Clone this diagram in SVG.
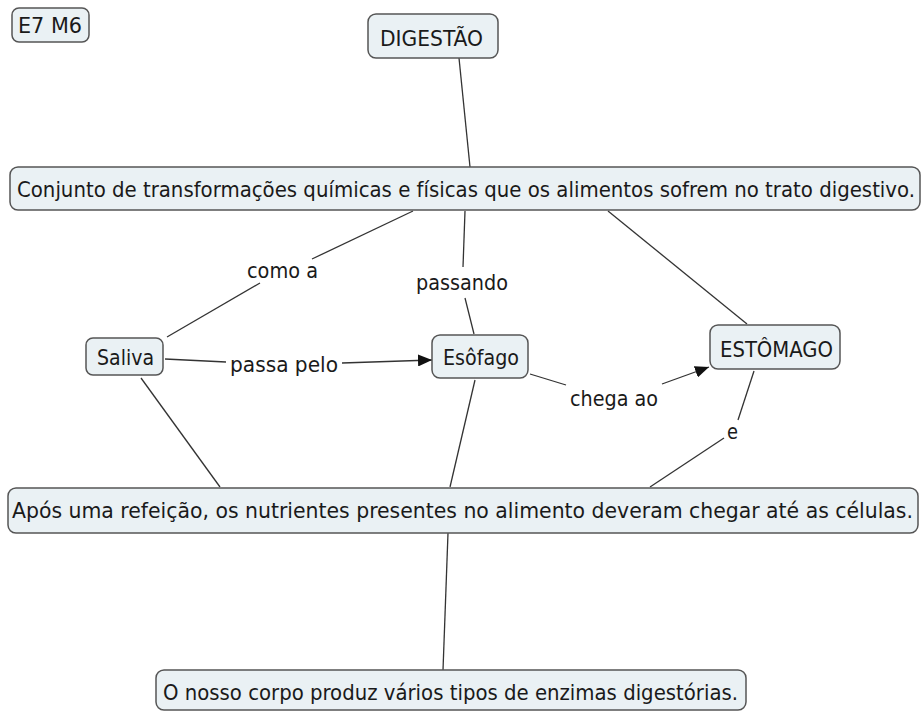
<svg xmlns="http://www.w3.org/2000/svg" width="923" height="711" viewBox="0 0 923 711">
<style>
.box{fill:#eaf1f4;stroke:#555;stroke-width:1.5}
.t{font-family:"DejaVu Sans Condensed","DejaVu Sans",sans-serif;font-size:21px;fill:#1a1a1a}
.c{stroke:#333;stroke-width:1.3;fill:none}
</style>
<defs>
<marker id="arr" markerWidth="14" markerHeight="12" refX="14" refY="6" orient="auto" markerUnits="userSpaceOnUse" viewBox="0 0 14 12">
<path d="M0,0 L14,6 L0,12 z" fill="#111"/>
</marker>
</defs>
<g id="connectors">
<line class="c" x1="459" y1="58" x2="470" y2="167"/>
<line class="c" x1="413" y1="211" x2="312" y2="259"/>
<line class="c" x1="260" y1="283" x2="167" y2="337"/>
<line class="c" x1="465" y1="211" x2="463" y2="267"/>
<line class="c" x1="465" y1="298" x2="474" y2="334"/>
<line class="c" x1="608" y1="211" x2="747" y2="324"/>
<line class="c" x1="165" y1="359" x2="226" y2="362"/>
<line class="c" x1="342" y1="363" x2="432" y2="360" marker-end="url(#arr)"/>
<line class="c" x1="530" y1="374" x2="566" y2="385"/>
<line class="c" x1="662" y1="384" x2="709" y2="367" marker-end="url(#arr)"/>
<line class="c" x1="754" y1="371" x2="738" y2="420"/>
<line class="c" x1="724" y1="438" x2="650" y2="487"/>
<line class="c" x1="141" y1="378" x2="220" y2="487"/>
<line class="c" x1="475" y1="380" x2="450" y2="487"/>
<line class="c" x1="448" y1="533" x2="443" y2="670"/>
</g>
<g id="lbl-como"><text class="t" x="247" y="278" textLength="71" lengthAdjust="spacingAndGlyphs">como a</text></g>
<g id="lbl-passando"><text class="t" x="416" y="290" textLength="92" lengthAdjust="spacingAndGlyphs">passando</text></g>
<g id="lbl-passapelo"><text class="t" x="230" y="372" textLength="108" lengthAdjust="spacingAndGlyphs">passa pelo</text></g>
<g id="lbl-chega"><text class="t" x="570" y="406" textLength="88" lengthAdjust="spacingAndGlyphs">chega ao</text></g>
<g id="lbl-e"><text class="t" x="727" y="439" textLength="11" lengthAdjust="spacingAndGlyphs">e</text></g>
<g id="n-e7m6"><rect class="box" x="12" y="8" width="77" height="34" rx="7"/><text class="t" x="18" y="33" textLength="64" lengthAdjust="spacingAndGlyphs">E7 M6</text></g>
<g id="n-digestao"><rect class="box" x="368" y="14" width="130" height="44" rx="8"/><text class="t" x="380" y="46" textLength="103" lengthAdjust="spacingAndGlyphs">DIGESTÃO</text></g>
<g id="n-conjunto"><rect class="box" x="10" y="167" width="910" height="43" rx="8"/><text class="t" x="17" y="197" textLength="898" lengthAdjust="spacingAndGlyphs">Conjunto de transformações químicas e físicas que os alimentos sofrem no trato digestivo.</text></g>
<g id="n-saliva"><rect class="box" x="86" y="338" width="77" height="37" rx="7"/><text class="t" x="97" y="365" textLength="57" lengthAdjust="spacingAndGlyphs">Saliva</text></g>
<g id="n-esofago"><rect class="box" x="432" y="335" width="96" height="43" rx="8"/><text class="t" x="443" y="365" textLength="76" lengthAdjust="spacingAndGlyphs">Esôfago</text></g>
<g id="n-estomago"><rect class="box" x="710" y="325" width="130" height="44" rx="8"/><text class="t" x="720" y="357" textLength="113" lengthAdjust="spacingAndGlyphs">ESTÔMAGO</text></g>
<g id="n-apos"><rect class="box" x="8" y="488" width="910" height="45" rx="8"/><text class="t" x="12" y="518" textLength="901" lengthAdjust="spacingAndGlyphs">Após uma refeição, os nutrientes presentes no alimento deveram chegar até as células.</text></g>
<g id="n-nosso"><rect class="box" x="156" y="670" width="590" height="40" rx="8"/><text class="t" x="163" y="700" textLength="575" lengthAdjust="spacingAndGlyphs">O nosso corpo produz vários tipos de enzimas digestórias.</text></g>
</svg>
